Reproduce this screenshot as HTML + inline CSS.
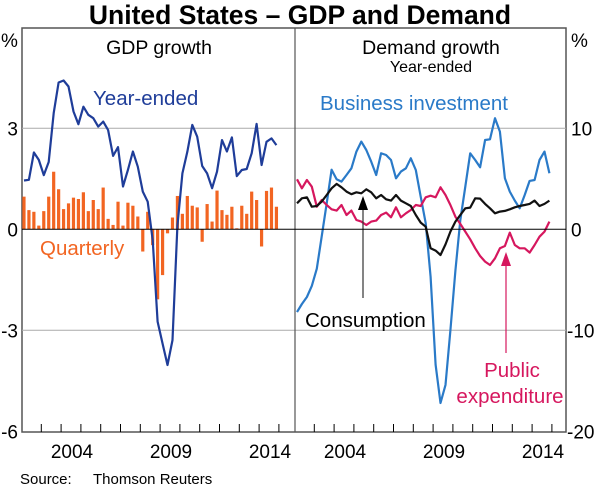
<!DOCTYPE html>
<html><head><meta charset="utf-8"><style>
body{margin:0;background:#fff;}
svg text{font-family:"Liberation Sans",Arial,sans-serif;}
</style></head><body>
<svg id="chart" width="600" height="486" viewBox="0 0 600 486" xmlns="http://www.w3.org/2000/svg">
<text x="300" y="24" text-anchor="middle" font-size="26.5" font-weight="bold" fill="#000">United States – GDP and Demand</text>
<rect x="22" y="28" width="544" height="404" fill="none" stroke="#555" stroke-width="1.5"/>
<g id="grid"></g>
<g id="series"></g>
<line x1="295" y1="28" x2="295" y2="432" stroke="#555" stroke-width="1.2"/>
<text x="159" y="54" text-anchor="middle" font-size="19.5">GDP growth</text>
<text x="431" y="54" text-anchor="middle" font-size="19.5">Demand growth</text>
<text x="431" y="72" text-anchor="middle" font-size="16">Year-ended</text>
<text x="1" y="47" font-size="19">%</text>
<text x="571" y="47" font-size="19">%</text>
<text x="93" y="105" font-size="20.5" fill="#1f3d99">Year-ended</text>
<text x="40" y="255" font-size="20.5" fill="#f26522">Quarterly</text>
<text x="320" y="110" font-size="20.5" fill="#2a7ac8">Business investment</text>
<text x="305" y="327" font-size="20.5" fill="#000">Consumption</text>
<text x="512" y="377" text-anchor="middle" font-size="20.5" fill="#d6175e">Public</text>
<text x="510" y="403" text-anchor="middle" font-size="20.5" fill="#d6175e">expenditure</text>
<line x1="363" y1="298" x2="363" y2="205" stroke="#333" stroke-width="1.2"/>
<polygon points="363,196 358,210 368,210" fill="#000"/>
<line x1="506" y1="353" x2="506" y2="260" stroke="#d6175e" stroke-width="1.2"/>
<polygon points="506,252 501,266 511,266" fill="#d6175e"/>
<text x="20" y="484" font-size="15">Source:</text>
<text x="93" y="484" font-size="15">Thomson Reuters</text>
</svg>
<script>
const leftTicks = [6, 3, 0, -3, -6];
const rightTicks = [20, 10, 0, -10, -20];
const yearLabels = [2004, 2009, 2014];
const startYear = 2002;
const gdpQuarterly = [0.97,0.57,0.52,0.11,0.54,0.97,1.71,1.19,0.60,0.77,0.94,0.90,1.10,0.54,0.87,0.60,1.24,0.31,0.13,0.82,0.11,0.79,0.70,0.38,-0.66,0.52,-0.47,-2.08,-1.36,-0.12,0.35,0.99,0.46,0.99,0.70,0.65,-0.37,0.75,0.23,1.15,0.57,0.43,0.67,0.03,0.70,0.46,1.12,0.87,-0.51,1.14,1.24,0.67];
const gdpYearEnded = [1.45,1.47,2.28,2.06,1.61,2.0,3.45,4.36,4.42,4.24,3.50,3.12,3.64,3.40,3.30,3.05,3.20,2.95,2.18,2.44,1.27,1.76,2.31,1.86,1.12,0.82,-0.32,-2.74,-3.4,-4.03,-3.29,0.1,1.66,2.3,3.1,2.75,1.88,1.66,1.22,1.71,2.65,2.31,2.73,1.58,1.76,1.79,2.26,3.13,1.91,2.6,2.7,2.5];
const consumption = [2.57,3.07,3.17,2.24,2.31,2.74,3.4,4.06,4.49,4.16,3.73,3.47,3.66,3.56,3.96,3.66,3.07,3.4,2.97,2.84,3.4,2.84,2.57,2.31,1.42,0.66,0.26,-1.88,-2.11,-2.54,-1.49,-0.23,0.76,1.42,2.08,2.15,3.07,3.04,2.51,2.08,1.58,1.75,1.82,1.98,2.18,2.31,2.41,2.51,2.84,2.31,2.51,2.84];
const publicExp = [4.95,4.06,4.88,4.22,2.24,2.9,2.41,1.98,1.85,2.41,1.42,1.85,0.92,0.76,0.43,0.76,0.86,1.42,1.65,1.19,2.18,1.19,1.58,1.91,2.41,2.31,3.17,3.33,3.17,4.16,3.4,2.41,1.25,0.53,-0.23,-0.99,-1.88,-2.64,-3.2,-3.53,-2.87,-1.88,-1.65,-0.33,-1.55,-1.88,-1.88,-2.31,-1.55,-0.73,-0.23,0.76];
const businessInv = [-8.2,-7.4,-6.7,-5.6,-3.9,-0.7,2.57,5.9,4.95,4.72,5.38,6.04,7.69,8.68,7.85,6.7,5.38,7.52,7.36,6.86,5.05,5.71,6.04,7.03,5.87,3.23,0.6,-4.7,-13.4,-17.2,-15.4,-10,-4.1,0.9,4.22,7.52,6.86,6.14,8.84,8.91,11.0,9.67,5.05,3.73,2.84,2.08,3.4,4.79,4.88,6.86,7.69,5.54];

const NS='http://www.w3.org/2000/svg';
const svg=document.getElementById('chart');
const grid=document.getElementById('grid');
const ser=document.getElementById('series');
function el(tag,attrs,parent){const e=document.createElementNS(NS,tag);for(const k in attrs)e.setAttribute(k,attrs[k]);parent.appendChild(e);return e;}
const Y0=229.3, PXU=33.67;
function yl(v){return Y0 - v*PXU;}
function yr(v){return Y0 - v*PXU*3/10;}
function xt(t,off){return 21.5 + (t-startYear)*19.8 + off;}
function qt(i){return startYear + 0.125 + i*0.25;}

[3,-3].forEach(v=>{
  const g=el('line',{x1:22,x2:566,y1:yl(v),y2:yl(v),stroke:'#aaa','stroke-width':1},grid);
  
  
});
const z=el('line',{x1:22,x2:566,y1:Y0,y2:Y0,stroke:'#000','stroke-width':1},svg);



leftTicks.forEach(v=>{
  if(v===6)return;
  const t=el('text',{x:18,y:yl(v)+7,'text-anchor':'end','font-size':19},svg);
  t.textContent=v;
  
  
});
rightTicks.forEach(v=>{
  if(v===20)return;
  const t=el('text',{x:v<0?567:571,y:yr(v)+7,'font-size':19},svg);
  t.textContent=v;
  
  
});
[0,273].forEach(off=>{
  for(let y=startYear+1;y<=2015;y++){
    const x=xt(y,off);
    if(x<=23||x>=565)continue;
    const tk=el('line',{x1:x,x2:x,y1:432,y2:424,stroke:'#000','stroke-width':1},svg);
    
    
  }
  yearLabels.forEach(yv=>{
    const t=el('text',{x:xt(yv+0.5,off)+1,y:458,'text-anchor':'middle','font-size':19},svg);
    t.textContent=yv;
    
    
  });
});

gdpQuarterly.forEach((v,i)=>{
  const x=xt(qt(i),0);
  const b=el('rect',{x:x-1.6,width:3.2,y:Math.min(yl(v),Y0),height:Math.abs(yl(v)-Y0),fill:'#f26522'},ser);
  
  
});
function line(data,off,yf,color,name){
  const pts=data.map((v,i)=>xt(qt(i),off).toFixed(1)+','+yf(v).toFixed(1)).join(' ');
  const p=el('polyline',{points:pts,fill:'none',stroke:color,'stroke-width':2.2,'stroke-linejoin':'round'},ser);
  
  
}
line(gdpYearEnded,0,yl,'#1f3d99','year-ended-line');
line(businessInv,273,yr,'#2a7ac8','business-investment-line');
line(publicExp,273,yr,'#d6175e','public-expenditure-line');
line(consumption,273,yr,'#111','consumption-line');
</script>
</body></html>
